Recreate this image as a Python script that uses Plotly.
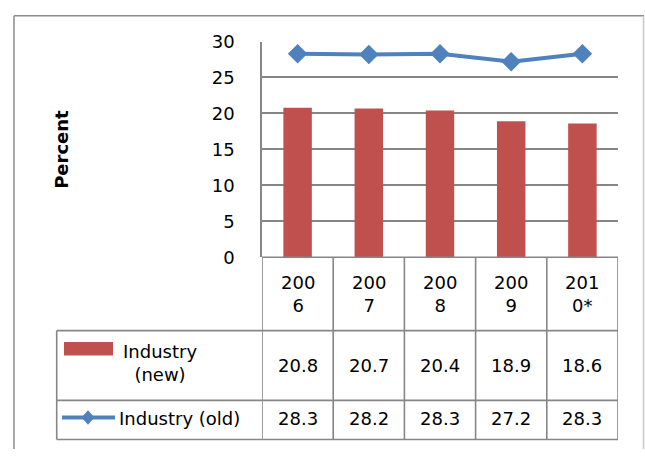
import plotly.graph_objects as go

categories = ["2006", "2007", "2008", "2009", "2010*"]
industry_new = [20.8, 20.7, 20.4, 18.9, 18.6]
industry_old = [28.3, 28.2, 28.3, 27.2, 28.3]
name_new = "Industry (new)"
name_old = "Industry (old)"
y_title = "Percent"

W, H = 645, 459
FONT = "DejaVu Sans"
FS = 18
GRID = "#868686"
RED = "#C0504D"
BLUE = "#4F81BD"


def px(x):
    return x / W


def py(y):
    return 1 - y / H


fig = go.Figure()
fig.add_trace(go.Bar(x=categories, y=industry_new, name=name_new,
                     marker=dict(color=RED, line=dict(width=0))))
fig.add_trace(go.Scatter(x=categories, y=industry_old, name=name_old,
                         mode="lines+markers",
                         line=dict(color=BLUE, width=4),
                         marker=dict(symbol="diamond", size=15, color=BLUE)))

shapes = []
annotations = []

# outer chart border (top, left, right; bottom lies below the picture)
shapes.append(dict(type="line", xref="paper", yref="paper", x0=px(14), x1=px(644),
                   y0=py(5), y1=py(5), line=dict(color="#8c8c8c", width=1.5)))
shapes.append(dict(type="line", xref="paper", yref="paper", x0=px(14), x1=px(14),
                   y0=py(5), y1=0, line=dict(color="#8c8c8c", width=1.5)))
shapes.append(dict(type="line", xref="paper", yref="paper", x0=px(643.5), x1=px(643.5),
                   y0=py(5), y1=0, line=dict(color="#c8c8c8", width=1.5)))

tbl_top, row1_top, row2_top, tbl_bot = 258, 335, 408, 449
tbl_left = 56.7
lw = 1.6

# horizontal table lines
shapes.append(dict(type="line", xref="x", yref="paper", x0=-0.5, x1=len(categories) - 0.5,
                   y0=py(tbl_top), y1=py(tbl_top), line=dict(color=GRID, width=lw)))
for yy in (row1_top, row2_top, tbl_bot):
    shapes.append(dict(type="line", xref="paper", yref="paper", x0=px(tbl_left), x1=px(618),
                       y0=py(yy), y1=py(yy), line=dict(color=GRID, width=lw)))
# vertical table lines
shapes.append(dict(type="line", xref="paper", yref="paper", x0=px(tbl_left), x1=px(tbl_left),
                   y0=py(row1_top), y1=py(tbl_bot), line=dict(color=GRID, width=lw)))
for k in range(len(categories) + 1):
    shapes.append(dict(type="line", xref="x", yref="paper", x0=k - 0.5, x1=k - 0.5,
                       y0=py(tbl_top), y1=py(tbl_bot), line=dict(color=GRID, width=lw)))

# year header labels and values (positioned by category index)
for i, (c, vn, vo) in enumerate(zip(categories, industry_new, industry_old)):
    annotations.append(dict(x=i, xref="x", y=py(297), yref="paper",
                            text=c[:3] + "<br>" + c[3:], showarrow=False,
                            font=dict(family=FONT, size=FS, color="black"),
                            xanchor="center", yanchor="middle", align="center"))
    annotations.append(dict(x=i, xref="x", y=py(371), yref="paper",
                            text=f"{vn:.1f}", showarrow=False,
                            font=dict(family=FONT, size=FS, color="black"),
                            xanchor="center", yanchor="middle"))
    annotations.append(dict(x=i, xref="x", y=py(427), yref="paper",
                            text=f"{vo:.1f}", showarrow=False,
                            font=dict(family=FONT, size=FS, color="black"),
                            xanchor="center", yanchor="middle"))

# legend keys in table
shapes.append(dict(type="rect", xref="paper", yref="paper", x0=px(64), x1=px(113),
                   y0=py(361), y1=py(347), fillcolor=RED, line=dict(width=0)))
shapes.append(dict(type="line", xref="paper", yref="paper", x0=px(62), x1=px(115),
                   y0=py(426), y1=py(426), line=dict(color=BLUE, width=4)))
cx, cy, hw, hh = 88, 426, 6.5, 7.5
shapes.append(dict(type="path", xref="paper", yref="paper",
                   path=(f"M {px(cx - hw)} {py(cy)} L {px(cx)} {py(cy - hh)} "
                         f"L {px(cx + hw)} {py(cy)} L {px(cx)} {py(cy + hh)} Z"),
                   fillcolor=BLUE, line=dict(width=0)))

parts = name_new.split(" ")
annotations.append(dict(x=px(160), xref="paper", y=py(369), yref="paper",
                        text=parts[0] + "<br>" + " ".join(parts[1:]), showarrow=False,
                        font=dict(family=FONT, size=FS, color="black"),
                        xanchor="center", yanchor="middle", align="center"))
annotations.append(dict(x=px(117), xref="paper", y=py(427), yref="paper",
                        text=name_old, showarrow=False,
                        font=dict(family=FONT, size=FS, color="black"),
                        xanchor="left", yanchor="middle"))

# y-axis title
annotations.append(dict(x=px(61.5), xref="paper", y=py(145), yref="paper",
                        text="<b>" + y_title + "</b>", showarrow=False, textangle=-90,
                        font=dict(family=FONT, size=FS, color="black"),
                        xanchor="center", yanchor="middle"))

fig.update_layout(
    width=W, height=H,
    autosize=False,
    margin=dict(l=0, r=0, t=0, b=0, pad=0),
    paper_bgcolor="white", plot_bgcolor="white",
    showlegend=False,
    bargap=0.6,
    font=dict(family=FONT, size=FS, color="black"),
    xaxis=dict(domain=[px(262), px(618)], type="category",
               range=[-0.5, len(categories) - 0.5],
               showticklabels=False, showgrid=False, showline=False,
               zeroline=False, ticks=""),
    yaxis=dict(domain=[py(258), py(32)], range=[0, 30], dtick=5,
               showgrid=True, gridcolor=GRID, gridwidth=1.6,
               showline=True, linecolor=GRID, linewidth=1.6,
               zeroline=False, ticks="", ticklabelstandoff=22,
               tickfont=dict(family=FONT, size=FS, color="black")),
    shapes=shapes,
    annotations=annotations,
)

post = (
    "var de=document.documentElement, b=document.body;"
    "de.style.margin='0';de.style.padding='0';de.style.overflow='hidden';"
    "b.style.margin='0';b.style.padding='0';b.style.overflow='hidden';"
    "var g=document.getElementById('{plot_id}');"
    "g.style.position='absolute';g.style.top='0px';g.style.left='0px';"
)
fig.write_html("out.html", config={"responsive": False, "displayModeBar": False},
               default_width="645px", default_height="459px", post_script=post)
